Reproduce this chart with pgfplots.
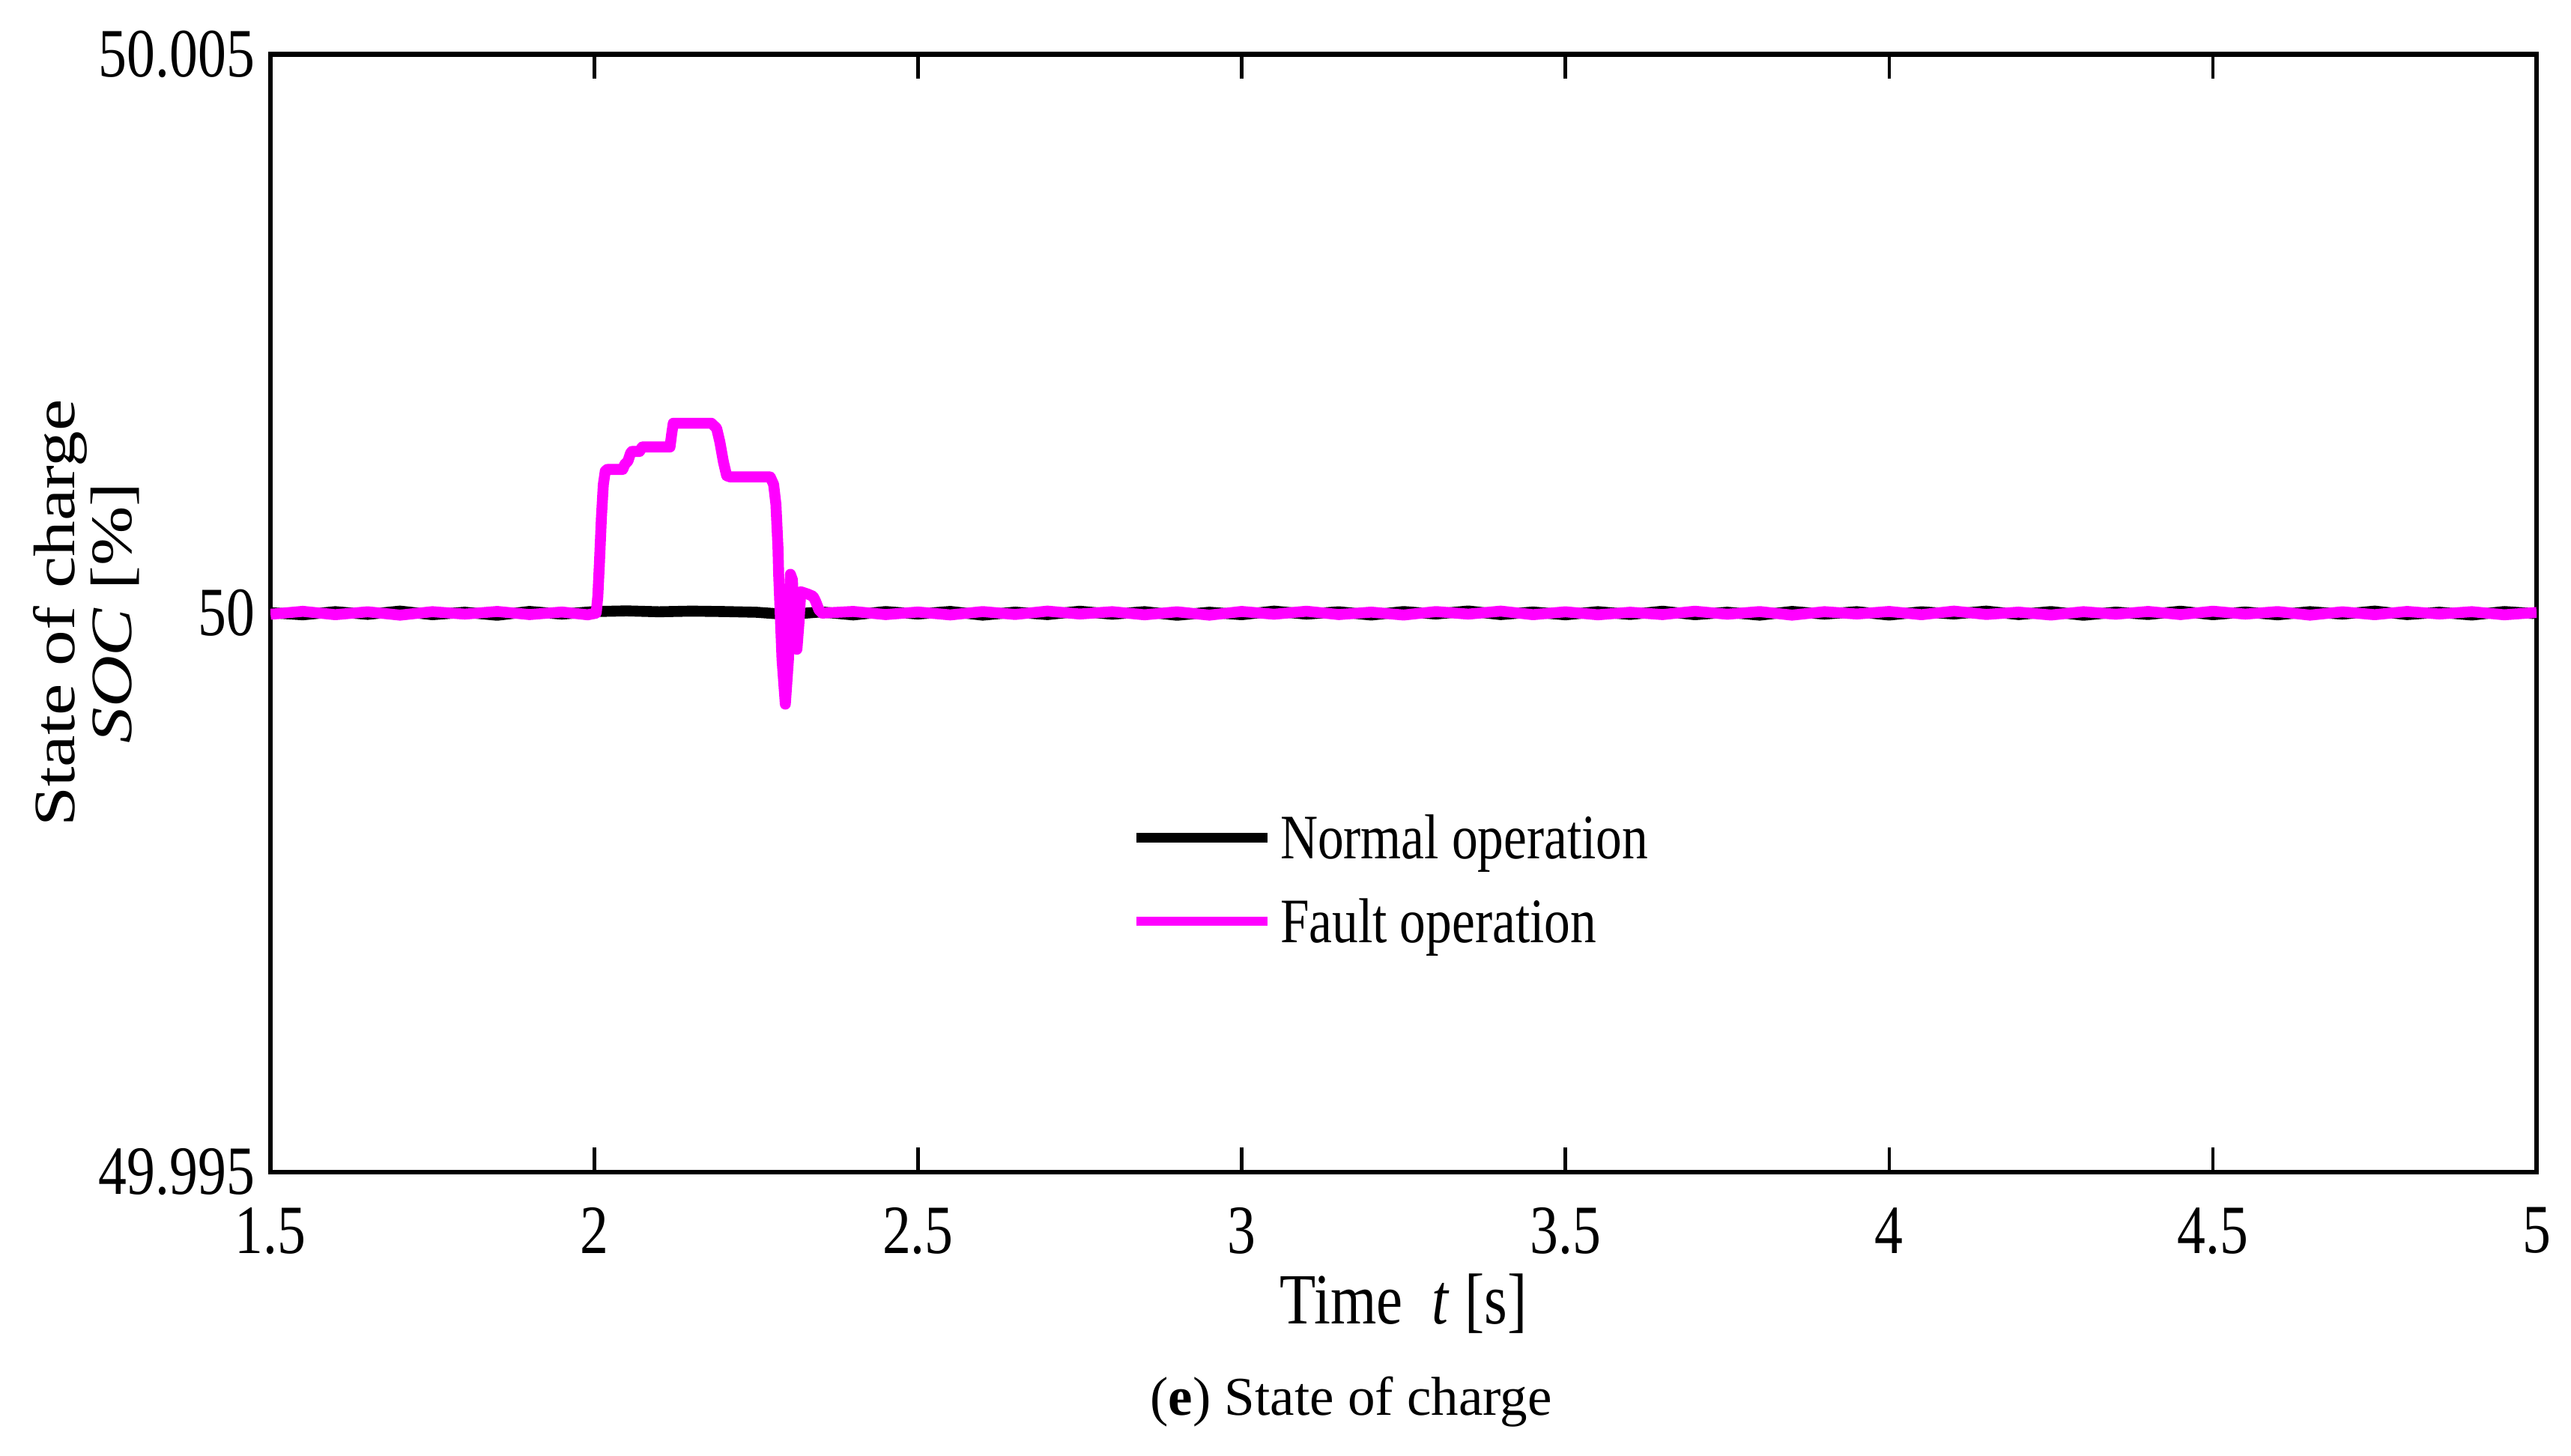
\documentclass[border=0pt]{standalone}
\usepackage{pgfplots}
\pgfplotsset{compat=1.18}
\usepackage{graphicx}
\usepackage{fontspec}
\setmainfont{Liberation Serif}
\newfontfamily\axfont[FakeStretch=0.82]{Liberation Serif}
\definecolor{magentaline}{RGB}{255,0,255}
% SOC values are stored as deviation from 50 % in units of 0.001 % (i.e. 1.285 means 50.001285 %)
\pgfplotstableread{
t dsoc
1.50 0.004
1.55 -0.015
1.60 0.013
1.65 -0.011
1.70 0.018
1.75 -0.014
1.80 0.008
1.85 -0.019
1.90 0.015
1.95 -0.009
2.00 0.014
2.05 0.020
2.10 0.012
2.15 0.018
2.20 0.014
2.25 0.008
2.30 -0.013
2.35 0.011
2.40 -0.016
2.45 0.014
2.50 -0.008
2.55 0.015
2.60 -0.018
2.65 0.009
2.70 -0.013
2.75 0.017
2.80 -0.010
2.85 0.013
2.90 -0.019
2.95 0.008
3.00 -0.014
3.05 0.018
3.10 -0.009
3.15 0.012
3.20 -0.017
3.25 0.014
3.30 -0.008
3.35 0.019
3.40 -0.013
3.45 0.010
3.50 -0.015
3.55 0.013
3.60 -0.012
3.65 0.017
3.70 -0.014
3.75 0.008
3.80 -0.018
3.85 0.015
3.90 -0.009
3.95 0.013
4.00 -0.017
4.05 0.012
4.10 -0.008
4.15 0.018
4.20 -0.013
4.25 0.014
4.30 -0.019
4.35 0.009
4.40 -0.012
4.45 0.017
4.50 -0.014
4.55 0.010
4.60 -0.015
4.65 0.013
4.70 -0.009
4.75 0.018
4.80 -0.013
4.85 0.008
4.90 -0.017
4.95 0.014
5.00 -0.005
}\normaldata
\pgfplotstableread{
t dsoc
1.50 -0.010
1.55 0.016
1.60 -0.014
1.65 0.012
1.70 -0.018
1.75 0.013
1.80 -0.009
1.85 0.015
1.90 -0.013
1.95 0.010
1.99 -0.015
2.003 0.000
2.0055 0.150
2.008 0.450
2.011 0.850
2.014 1.150
2.017 1.270
2.020 1.285
2.044 1.285
2.047 1.330
2.052 1.360
2.056 1.430
2.058 1.446
2.070 1.446
2.074 1.486
2.117 1.486
2.1195 1.600
2.122 1.698
2.181 1.698
2.189 1.653
2.194 1.530
2.1995 1.352
2.2045 1.229
2.210 1.218
2.2718 1.218
2.277 1.151
2.2806 0.972
2.2837 0.593
2.2848 0.350
2.290 -0.412
2.2951 -0.814
2.300 -0.410
2.303 0.347
2.306 0.300
2.310 -0.200
2.313 -0.323
2.316 -0.100
2.319 0.191
2.330 0.170
2.338 0.150
2.3416 0.110
2.347 0.030
2.352 0.000
2.40 0.015
2.45 -0.013
2.50 0.010
2.55 -0.016
2.60 0.014
2.65 -0.012
2.70 0.018
2.75 -0.008
2.80 0.013
2.85 -0.015
2.90 0.012
2.95 -0.018
3.00 0.015
3.05 -0.010
3.10 0.017
3.15 -0.013
3.20 0.009
3.25 -0.017
3.30 0.014
3.35 -0.009
3.40 0.018
3.45 -0.014
3.50 0.012
3.55 -0.015
3.60 0.008
3.65 -0.013
3.70 0.017
3.75 -0.010
3.80 0.014
3.85 -0.018
3.90 0.013
3.95 -0.008
4.00 0.015
4.05 -0.014
4.10 0.018
4.15 -0.012
4.20 0.009
4.25 -0.017
4.30 0.013
4.35 -0.010
4.40 0.015
4.45 -0.013
4.50 0.017
4.55 -0.009
4.60 0.014
4.65 -0.018
4.70 0.012
4.75 -0.014
4.80 0.015
4.85 -0.008
4.90 0.013
4.95 -0.015
5.00 0.006
}\faultdata
\begin{document}
\begin{tikzpicture}
\path[use as bounding box] (-16.5mm,-17.3mm) rectangle (140.3mm,71.5mm);
\begin{axis}[
  at={(0,0)}, anchor=south west,
  scale only axis, width=138.2mm, height=68.2mm,
  xmin=1.5, xmax=5, ymin=-5, ymax=5,
  xtick={1.5,2,2.5,3,3.5,4,4.5,5},
  xticklabels={1.5,2,2.5,3,3.5,4,4.5,5},
  ytick={-5,0,5},
  yticklabels={49.995,50,50.005},
  tick align=inside,
  major tick length=1.5mm,
  tick style={line width=0.6pt, black},
  axis line style={line width=0.85pt},
  /pgf/number format/assume math mode=true,
  ticklabel style={font=\fontsize{12}{14}\axfont, inner sep=0pt},
  xticklabel style={yshift=-2.1mm},
  yticklabel style={xshift=-0.9mm},
  xlabel={Time\ \ \textit{t} [s]},
  xlabel style={font=\fontsize{12.5}{14}\axfont, at={(rel axis cs:0.5,0)}, anchor=center, yshift=-8mm},
  ylabel={\scalebox{1}[0.82]{\begin{tabular}{@{}c@{}}State of charge\\ \textit{SOC} [\%]\end{tabular}}},
  ylabel style={font=\fontsize{12.4}{11.5}\selectfont, at={(rel axis cs:0,0.5)}, anchor=center, yshift=11.0mm},
  legend cell align=left,
  legend style={draw=none, fill=none, at={(rel axis cs:0.3795,0.2617)}, anchor=west,
    inner sep=0pt, row sep=1.1mm, column sep=0.5mm,
    font=\fontsize{11}{13}\axfont,
    nodes={inner sep=0pt, text height=3.3mm, text depth=0.7mm}},
  legend image code/.code={\draw[#1, line width=1.6pt] (0mm,0mm) -- (8mm,0mm);},
]
\addplot[black, line width=1.9pt, line join=round] table[x=t, y=dsoc] {\normaldata};
\addlegendentry{Normal operation}
\addplot[magentaline, line width=1.9pt, line join=round] table[x=t, y=dsoc] {\faultdata};
\addlegendentry{Fault operation}
\end{axis}
\node[font=\fontsize{9.5}{11}\selectfont] at (65.9mm,-14mm) {(\textbf{e}) State of charge};
\end{tikzpicture}
\end{document}
